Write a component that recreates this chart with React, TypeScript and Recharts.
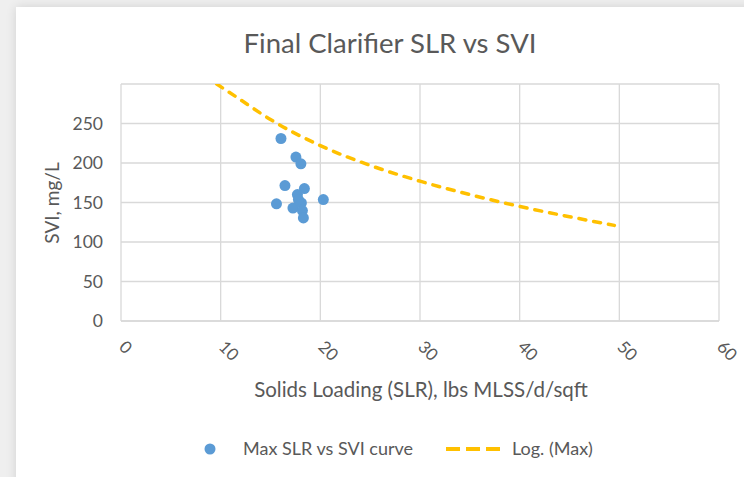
import React from "react";
import {
  ComposedChart,
  Scatter,
  Line,
  XAxis,
  YAxis,
  CartesianGrid,
} from "recharts";

// observed points: SLR (lbs MLSS/d/sqft) vs SVI (mg/L)
const SLR_VALUES = [16.05, 17.55, 18.05, 16.45, 18.4, 17.7, 15.6, 20.3, 17.25, 18.1, 18.2, 18.3, 17.8];
const SVI_VALUES = [231, 207.5, 199, 171.5, 167.7, 160, 148.3, 153.7, 143, 149.5, 139.8, 130.5, 153.7];

// log trendline
const TREND_X = [9.6, 12, 15, 20, 25, 30, 35, 40, 45, 49.5];
const TREND_Y = [300, 280, 255, 222, 197, 177, 160, 145, 132, 121];

const X_TICKS = [0, 10, 20, 30, 40, 50, 60];
const Y_TICKS = [0, 50, 100, 150, 200, 250];

const BLUE = "#5B9BD5";
const GOLD = "#FFC000";
const TEXT = "#595959";
const GRID = "#d9d9d9";
const FONT = "Lato, 'Open Sans', sans-serif";

const points = SLR_VALUES.map((x, i) => ({ x, y: SVI_VALUES[i] }));
const trend = TREND_X.map((x, i) => ({ x, y: TREND_Y[i] }));

function SlantTick(props: any) {
  const { x, y, payload } = props;
  const tx = x - 3;
  const ty = y + 27;
  return (
    <text
      x={tx}
      y={ty}
      transform={`rotate(45 ${tx} ${ty})`}
      textAnchor="start"
      fill={TEXT}
      fontSize={17}
      fontFamily={FONT}
    >
      {payload.value}
    </text>
  );
}

export default function App() {
  return (
    <div
      style={{
        position: "fixed",
        left: 0,
        top: 0,
        width: 744,
        height: 477,
        background: "#efefef",
        fontFamily: FONT,
        overflow: "hidden",
      }}
    >
      <div
        style={{
          position: "absolute",
          left: 16,
          top: 7,
          width: 740,
          height: 480,
          background: "#fff",
          boxShadow: "0 0 10px rgba(0,0,0,0.12)",
        }}
      />
      <div style={{ position: "absolute", left: 0, top: 0 }}>
        <ComposedChart
          width={744}
          height={477}
          margin={{ top: 84, right: 25, bottom: 116, left: 81 }}
        >
          <CartesianGrid stroke={GRID} strokeWidth={1.3} />
          <XAxis
            type="number"
            dataKey="x"
            domain={[0, 60]}
            ticks={X_TICKS}
            height={40}
            tickSize={0}
            tickMargin={0}
            axisLine={{ stroke: GRID, strokeWidth: 1.5 }}
            tickLine={false}
            tick={<SlantTick />}
            interval={0}
          />
          <YAxis
            type="number"
            dataKey="y"
            domain={[0, 300]}
            ticks={Y_TICKS}
            width={40}
            tickSize={0}
            tickMargin={18}
            axisLine={false}
            tickLine={false}
            allowDataOverflow
            tick={{ fill: TEXT, fontSize: 17.5, fontFamily: FONT }}
            interval={0}
          />
          <Line
            data={trend}
            dataKey="y"
            type="monotone"
            stroke={GOLD}
            strokeWidth={3.5}
            strokeDasharray="7 8"
            strokeLinecap="round"
            dot={false}
            activeDot={false}
            isAnimationActive={false}
          />
          <Scatter
            data={points}
            dataKey="y"
            fill={BLUE}
            shape={(p: any) => <circle cx={p.cx} cy={p.cy} r={5.5} fill={BLUE} />}
            isAnimationActive={false}
          />
        </ComposedChart>
      </div>
      <svg
        style={{ position: "absolute", left: 0, top: 0, pointerEvents: "none" }}
        width={744}
        height={477}
      >
        <text x={390} y={53} textAnchor="middle" fontSize={27.5} fill={TEXT} fontFamily={FONT}>
          Final Clarifier SLR vs SVI
        </text>
        <text
          x={59}
          y={203}
          transform="rotate(-90 59 203)"
          textAnchor="middle"
          fontSize={19}
          fill={TEXT}
          fontFamily={FONT}
        >
          SVI, mg/L
        </text>
        <text x={421} y={397} textAnchor="middle" fontSize={20.5} fill={TEXT} fontFamily={FONT}>
          Solids Loading (SLR), lbs MLSS/d/sqft
        </text>
        <circle cx={210} cy={449} r={5.5} fill={BLUE} />
        <text x={243} y={455} fontSize={18} fill={TEXT} fontFamily={FONT}>
          Max SLR vs SVI curve
        </text>
        <line
          x1={446}
          y1={449}
          x2={500}
          y2={449}
          stroke={GOLD}
          strokeWidth={4}
          strokeDasharray="14 6"
        />
        <text x={512} y={455} fontSize={18} fill={TEXT} fontFamily={FONT}>
          Log. (Max)
        </text>
      </svg>
    </div>
  );
}
